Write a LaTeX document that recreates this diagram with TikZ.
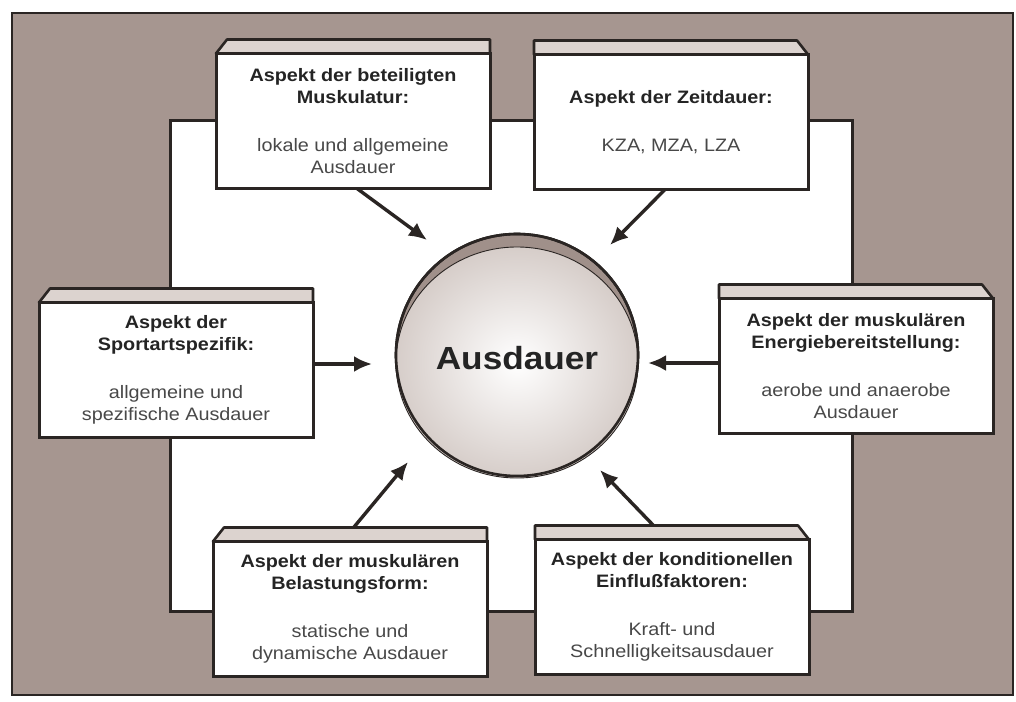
\documentclass[tikz,border=0pt]{standalone}
\usepackage{fontspec}
\setmainfont{Liberation Sans}[FakeStretch=1.1]
\usetikzlibrary{arrows.meta, backgrounds}
\definecolor{framebrown}{RGB}{166,150,144}
\definecolor{edgedark}{RGB}{42,37,35}
\definecolor{lidgray}{RGB}{220,211,207}
\definecolor{headgray}{RGB}{36,36,36}
\definecolor{descgray}{RGB}{72,72,72}
\definecolor{rimtaupe}{RGB}{160,144,138}
\definecolor{facetaupe}{RGB}{214,205,201}
\newcommand{\hd}[1]{\textbf{#1}}
\newcommand{\ds}[1]{\textcolor{descgray}{#1}}
% lid on top of a box, slanted at the left or at the right
\newcommand{\lidleft}[1]{\draw[lid] (#1.north west) -- ([shift={(11,-14)}]#1.north west)
  -- ([shift={(0,-14)}]#1.north east) -- (#1.north east) -- cycle;}
\newcommand{\lidright}[1]{\draw[lid] (#1.north west) -- ([shift={(0,-14)}]#1.north west)
  -- ([shift={(-11,-14)}]#1.north east) -- (#1.north east) -- cycle;}

\begin{document}
\begin{tikzpicture}[
  x=1pt, y=-1pt,
  aspect/.style={draw=edgedark, fill=white, line width=3pt, outer sep=0pt,
                 minimum width=274pt, minimum height=135pt, inner sep=0pt,
                 align=center, font=\fontsize{18}{22}\selectfont, text=headgray},
  lid/.style={draw=edgedark, fill=lidgray, line width=2.6pt, line join=round},
  arr/.style={-{Latex[length=18pt, width=16pt]}, edgedark, line width=3.4pt}
]
  \useasboundingbox (0,0) rectangle (1016,701);
  \begin{scope}[on background layer]
    \fill[white] (0,0) rectangle (1016,701);
    \draw[edgedark, line width=2pt, fill=framebrown] (12,13) rectangle (1013,695);
    \draw[edgedark, line width=3pt, fill=white] (170,120) rectangle (852,611);
  \end{scope}

  % centre disc
  \draw[edgedark, line width=2.6pt, fill=rimtaupe] (517,355) circle (121);
  \draw[edgedark, line width=0.9pt, shading=radial, inner color=white,
        outer color=facetaupe] (517,362.5) ellipse (121 and 115.5);
  \draw[edgedark, line width=2.6pt] (517,355) circle (121);
  \node[font=\fontsize{32}{36}\selectfont\bfseries, text=headgray] (ausd)
    at (517,358) {Ausdauer};

  % aspects
  \node[aspect] (musk) at (353,121)
    {\hd{Aspekt der beteiligten}\\\hd{Muskulatur:}\\[26pt]\ds{lokale und allgemeine}\\\ds{Ausdauer}};
  \node[aspect] (zeit) at (671,122)
    {\hd{Aspekt der Zeitdauer:}\\[26pt]\ds{KZA, MZA, LZA}};
  \node[aspect] (sport) at (176,370)
    {\hd{Aspekt der}\\\hd{Sportartspezifik:}\\[26pt]\ds{allgemeine und}\\\ds{spezifische Ausdauer}};
  \node[aspect] (energie) at (856,366)
    {\hd{Aspekt der muskulären}\\\hd{Energiebereitstellung:}\\[26pt]\ds{aerobe und anaerobe}\\\ds{Ausdauer}};
  \node[aspect] (belast) at (350,609)
    {\hd{Aspekt der muskulären}\\\hd{Belastungsform:}\\[26pt]\ds{statische und}\\\ds{dynamische Ausdauer}};
  \node[aspect] (kondi) at (672,607)
    {\hd{Aspekt der konditionellen}\\\hd{Einflußfaktoren:}\\[26pt]\ds{Kraft- und}\\\ds{Schnelligkeitsausdauer}};
  \lidleft{musk}
  \lidright{zeit}
  \lidleft{sport}
  \lidright{energie}
  \lidleft{belast}
  \lidright{kondi}

  % arrow tips near the disc
  \coordinate (t1) at (427,240);
  \coordinate (t2) at (610,245);
  \coordinate (t3) at (372,364);
  \coordinate (t4) at (648,363);
  \coordinate (t5) at (408,462);
  \coordinate (t6) at (600,470);
  \begin{scope}[on background layer]
    \draw[arr] ([xshift=4pt]musk.south) -- (t1);
    \draw[arr] ([xshift=-6pt]zeit.south) -- (t2);
    \draw[arr] (sport.east |- t3) -- (t3);
    \draw[arr] (energie.west |- t4) -- (t4);
    \draw[arr] ([xshift=-8pt]belast.north) -- (t5);
    \draw[arr] ([xshift=-5pt]kondi.north) -- (t6);
  \end{scope}
\end{tikzpicture}
\end{document}
